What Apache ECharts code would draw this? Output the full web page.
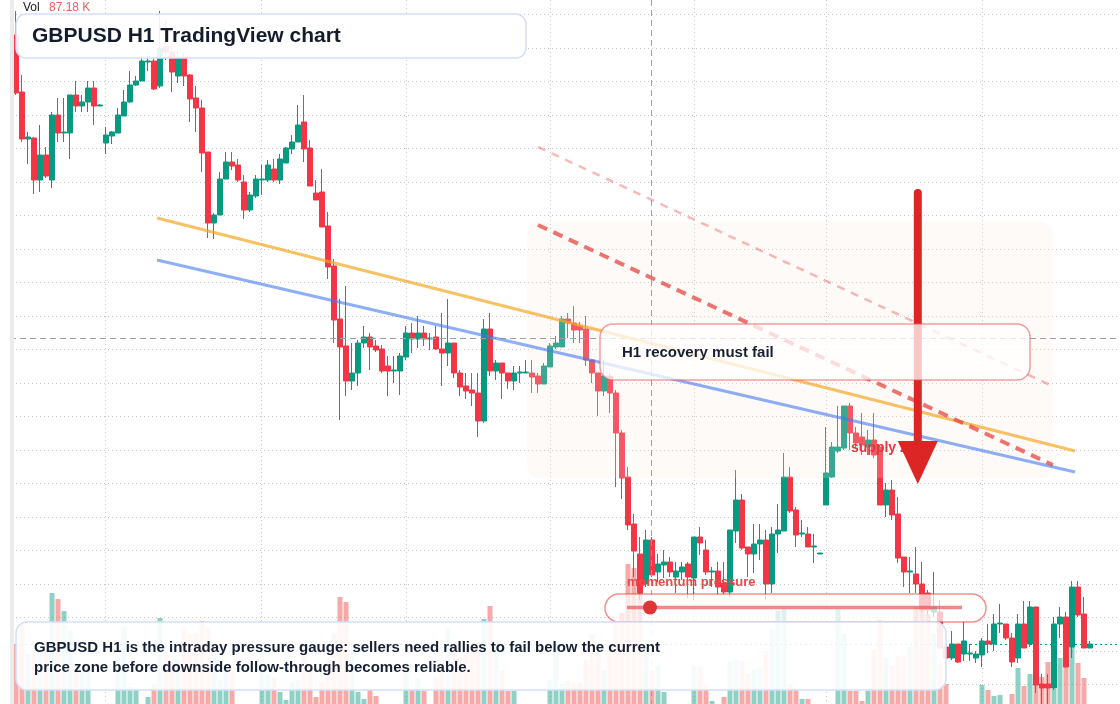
<!DOCTYPE html>
<html>
<head>
<meta charset="utf-8">
<script src="https://cdn.jsdelivr.net/npm/echarts@6/dist/echarts.min.js"></script>
<style>html,body{margin:0;padding:0;background:#fff;}#c{width:1120px;height:704px;}</style>
</head>
<body>
<div id="c"></div>
<script>
// ---------------- data (GBPUSD H1) ----------------
const openP = [
1.2965,1.2908,1.2861,1.2862,1.2820,1.2845,1.2820,1.2885,1.2867,1.2867,
1.2905,1.2894,1.2898,1.2912,1.2894,1.2857,1.2864,1.2867,1.2884,1.2898,
1.2915,1.2919,1.2938,1.2939,1.2914,1.2954,1.2948,1.2924,1.2942,1.2925,
1.2902,1.2892,1.2848,1.2777,1.2785,1.2821,1.2838,1.2835,1.2818,1.2790,
1.2804,1.2820,1.2820,1.2831,1.2820,1.2837,1.2851,1.2858,1.2878,1.2852,
1.2807,1.2808,1.2774,1.2734,1.2681,1.2654,1.2619,1.2627,1.2657,1.2663,
1.2654,1.2651,1.2634,1.2629,1.2629,1.2643,1.2667,1.2661,1.2667,1.2661,
1.2663,1.2651,1.2647,1.2657,1.2627,1.2614,1.2610,1.2607,1.2579,1.2671,
1.2629,1.2637,1.2627,1.2619,1.2627,1.2627,1.2627,1.2624,1.2616,1.2633,
1.2653,1.2653,1.2681,1.2677,1.2674,1.2671,1.2640,1.2627,1.2609,1.2624,
1.2607,1.2567,1.2523,1.2476,1.2446,1.2416,1.2460,1.2428,1.2435,1.2438,
1.2423,1.2428,1.2436,1.2422,1.2463,1.2450,1.2428,1.2429,1.2417,1.2408,
1.2469,1.2500,1.2453,1.2446,1.2456,1.2460,1.2416,1.2466,1.2469,1.2523,
1.2490,1.2466,1.2466,1.2453,1.2446,1.2495,1.2523,1.2549,1.2552,1.2594,
1.2567,1.2563,1.2553,1.2560,1.2553,1.2495,1.2510,1.2486,1.2443,1.2428,
1.2426,1.2416,1.2407,1.2388,1.2388,1.2353,1.2342,1.2356,1.2346,1.2346,
1.2342,1.2345,1.2359,1.2356,1.2376,1.2376,1.2362,1.2342,1.2376,1.2356,
1.2393,1.2316,1.2316,1.2312,1.2376,1.2383,1.2353,1.2413,1.2386,1.2352];
const closeP = [
1.2907,1.2861,1.2863,1.2820,1.2845,1.2824,1.2885,1.2867,1.2868,1.2905,
1.2894,1.2898,1.2912,1.2894,1.2895,1.2865,1.2868,1.2885,1.2898,1.2915,
1.2919,1.2939,1.2939,1.2911,1.2952,1.2948,1.2928,1.2942,1.2924,1.2901,
1.2892,1.2847,1.2777,1.2785,1.2821,1.2838,1.2834,1.2820,1.2790,1.2805,
1.2821,1.2821,1.2835,1.2820,1.2841,1.2852,1.2858,1.2875,1.2851,1.2814,
1.2800,1.2773,1.2733,1.2680,1.2653,1.2619,1.2627,1.2657,1.2663,1.2653,
1.2650,1.2629,1.2629,1.2630,1.2644,1.2667,1.2661,1.2667,1.2661,1.2662,
1.2651,1.2647,1.2657,1.2627,1.2613,1.2609,1.2607,1.2579,1.2671,1.2629,
1.2637,1.2627,1.2619,1.2627,1.2628,1.2628,1.2623,1.2616,1.2634,1.2654,
1.2657,1.2681,1.2677,1.2670,1.2670,1.2640,1.2627,1.2609,1.2624,1.2607,
1.2567,1.2522,1.2475,1.2449,1.2407,1.2460,1.2425,1.2436,1.2438,1.2428,
1.2429,1.2433,1.2423,1.2463,1.2457,1.2428,1.2429,1.2413,1.2408,1.2470,
1.2500,1.2452,1.2446,1.2456,1.2460,1.2416,1.2466,1.2470,1.2523,1.2489,
1.2465,1.2467,1.2453,1.2454,1.2447,1.2527,1.2553,1.2553,1.2594,1.2567,
1.2557,1.2555,1.2560,1.2545,1.2495,1.2510,1.2485,1.2442,1.2428,1.2429,
1.2416,1.2390,1.2390,1.2393,1.2352,1.2342,1.2356,1.2338,1.2359,1.2347,
1.2346,1.2359,1.2356,1.2376,1.2377,1.2362,1.2338,1.2376,1.2352,1.2393,
1.2315,1.2312,1.2312,1.2376,1.2383,1.2333,1.2413,1.2385,1.2352,1.2356];
const highP = [
1.2989,1.2925,1.2868,1.2863,1.2875,1.2853,1.2888,1.2902,1.2902,1.2905,
1.2919,1.2905,1.2919,1.2919,1.2896,1.2873,1.2869,1.2892,1.2910,1.2929,
1.2924,1.2944,1.2944,1.2944,1.2989,1.2980,1.2955,1.2950,1.2947,1.2926,
1.2914,1.2900,1.2848,1.2787,1.2828,1.2848,1.2848,1.2841,1.2825,1.2808,
1.2825,1.2835,1.2840,1.2841,1.2846,1.2853,1.2865,1.2895,1.2905,1.2860,
1.2820,1.2831,1.2788,1.2741,1.2701,1.2714,1.2657,1.2660,1.2674,1.2667,
1.2660,1.2655,1.2644,1.2644,1.2647,1.2674,1.2677,1.2684,1.2674,1.2667,
1.2674,1.2687,1.2701,1.2657,1.2630,1.2627,1.2627,1.2627,1.2681,1.2687,
1.2640,1.2637,1.2627,1.2634,1.2634,1.2640,1.2640,1.2627,1.2637,1.2657,
1.2664,1.2684,1.2687,1.2694,1.2678,1.2684,1.2640,1.2627,1.2640,1.2627,
1.2610,1.2570,1.2533,1.2486,1.2463,1.2470,1.2463,1.2446,1.2450,1.2443,
1.2438,1.2438,1.2438,1.2463,1.2473,1.2460,1.2433,1.2438,1.2438,1.2470,
1.2530,1.2506,1.2453,1.2476,1.2476,1.2470,1.2473,1.2496,1.2547,1.2533,
1.2493,1.2480,1.2473,1.2466,1.2447,1.2573,1.2558,1.2594,1.2594,1.2597,
1.2573,1.2587,1.2570,1.2587,1.2555,1.2517,1.2520,1.2503,1.2443,1.2443,
1.2453,1.2438,1.2410,1.2428,1.2400,1.2360,1.2369,1.2356,1.2379,1.2356,
1.2349,1.2362,1.2376,1.2386,1.2396,1.2376,1.2367,1.2386,1.2399,1.2399,
1.2393,1.2326,1.2326,1.2383,1.2393,1.2388,1.2419,1.2419,1.2403,1.2359];
const lowP = [
1.2905,1.2858,1.2836,1.2806,1.2808,1.2822,1.2812,1.2858,1.2858,1.2841,
1.2888,1.2888,1.2888,1.2875,1.2894,1.2846,1.2856,1.2867,1.2884,1.2897,
1.2914,1.2919,1.2929,1.2910,1.2912,1.2940,1.2908,1.2917,1.2914,1.2878,
1.2868,1.2828,1.2762,1.2761,1.2785,1.2821,1.2830,1.2818,1.2781,1.2788,
1.2802,1.2805,1.2818,1.2818,1.2816,1.2837,1.2846,1.2858,1.2838,1.2814,
1.2800,1.2773,1.2721,1.2657,1.2580,1.2604,1.2610,1.2614,1.2652,1.2630,
1.2648,1.2627,1.2604,1.2617,1.2605,1.2640,1.2647,1.2652,1.2654,1.2650,
1.2650,1.2614,1.2634,1.2622,1.2604,1.2601,1.2594,1.2563,1.2577,1.2624,
1.2620,1.2601,1.2611,1.2610,1.2617,1.2627,1.2607,1.2607,1.2616,1.2633,
1.2651,1.2653,1.2662,1.2657,1.2657,1.2634,1.2617,1.2584,1.2604,1.2587,
1.2513,1.2501,1.2470,1.2423,1.2400,1.2413,1.2423,1.2418,1.2422,1.2423,
1.2407,1.2420,1.2402,1.2400,1.2445,1.2425,1.2413,1.2405,1.2405,1.2403,
1.2457,1.2450,1.2423,1.2427,1.2440,1.2400,1.2407,1.2447,1.2469,1.2487,
1.2453,1.2463,1.2453,1.2437,1.2446,1.2495,1.2522,1.2547,1.2550,1.2550,
1.2552,1.2545,1.2545,1.2542,1.2495,1.2483,1.2480,1.2437,1.2413,1.2407,
1.2407,1.2388,1.2385,1.2383,1.2350,1.2340,1.2340,1.2337,1.2339,1.2339,
1.2337,1.2333,1.2347,1.2349,1.2367,1.2360,1.2333,1.2337,1.2352,1.2353,
1.2307,1.2296,1.2296,1.2310,1.2362,1.2333,1.2342,1.2383,1.2352,1.2352];
const volumeK = [
80,100,70,72,73,82,131,125,113,93,
60,55,55,12,9,14,11,66,97,37,
35,14,27,40,106,68,57,64,97,89,
91,103,96,70,44,58,53,13,10,15,
12,57,49,47,32,24,42,44,80,60,
27,42,63,91,127,122,73,32,25,36,
28,11,14,9,13,62,34,46,33,12,
47,64,96,82,67,74,72,82,105,118,
84,54,33,33,10,13,11,15,12,44,
82,40,43,41,42,64,90,73,54,80,
103,111,160,156,137,84,54,59,32,12,
10,14,11,58,57,39,23,13,27,63,
64,63,50,55,56,73,95,113,115,40,
34,25,25,11,13,10,14,115,90,33,
33,23,33,74,104,66,58,68,68,77,
117,130,110,90,60,40,12,10,14,11,
13,39,34,28,29,12,30,56,38,50,
41,47,62,35,66,75,89,61,46,13];

// session (day) separators, in bar index units
const sessionBreaks = [14.9, 40.9, 65, 89, 113, 135, 161];
// crosshair position [bar index, price]
const crosshair = [105.8, 1.2662];
// annotations in [index, price] coordinates
const trendOrange  = [23.5, 1.2782, 176.5, 1.2549];
const trendBlue    = [23.5, 1.2740, 176.5, 1.2528];
const channelLight = [87, 1.2853, 172.7, 1.2614];
const channelRed   = [87, 1.2775, 172.8, 1.2535];
const supplyZone   = [85.2, 1.2778, 172.8, 1.2522];
const arrowPath    = [150.3, 1.2807, 1.2559, 1.2516]; // x, top, head base, tip

// axis ranges
const PRICE_MIN = 1.23155, PRICE_MAX = 1.29855, PRICE_STEP = 0.00335;
const X_MIN = -2, X_MAX = 184;
const VOL_MIN = 20, VOL_MAX = 180; // the pane is cut at the bottom of the window

// ---------------- chart ----------------
const UP = '#089981', DN = '#f23645';
const FONT = '"Liberation Sans", Arial, Helvetica, sans-serif';
const chart = echarts.init(document.getElementById('c'), null, {renderer: 'canvas', width: 1120, height: 704});

const candleData = openP.map((o, i) => [i, o, closeP[i], lowP[i], highP[i]]);
const volData = volumeK.map((v, i) => ({
  value: [i, v],
  itemStyle: {color: closeP[i] >= openP[i] ? 'rgba(8,153,129,0.45)' : 'rgba(239,83,80,0.5)'}
}));
const lastPrice = [closeP.length - 1, closeP[closeP.length - 1]];
const trendStyles = [
  {stroke: 'rgba(245,166,35,0.7)', lineWidth: 3},
  {stroke: 'rgba(66,120,240,0.6)', lineWidth: 3},
  {stroke: 'rgba(229,57,53,0.35)', lineWidth: 2.5, lineDash: [8, 7]},
  {stroke: 'rgba(229,57,53,0.7)', lineWidth: 4, lineDash: [10, 7]}
];

const option = {
  animation: false,
  backgroundColor: '#ffffff',
  grid: [
    {left: 4, right: 0, top: 14.5, height: 670},
    {left: 4, right: 0, top: 544, height: 160}
  ],
  xAxis: [
    {type: 'value', gridIndex: 0, min: X_MIN, max: X_MAX, show: false},
    {type: 'value', gridIndex: 1, min: X_MIN, max: X_MAX, show: false}
  ],
  yAxis: [
    {type: 'value', gridIndex: 0, min: PRICE_MIN, max: PRICE_MAX, interval: PRICE_STEP, scale: true,
     axisLine: {show: false}, axisTick: {show: false}, axisLabel: {show: false},
     splitLine: {show: true, lineStyle: {color: '#c6c6c6', type: [1, 3], width: 1}}},
    {type: 'value', gridIndex: 1, min: VOL_MIN, max: VOL_MAX, show: false}
  ],
  series: [
    {
      type: 'custom', name: 'sessions', xAxisIndex: 0, yAxisIndex: 0, z: 1, silent: true,
      data: sessionBreaks.map(v => [v, PRICE_MIN]), encode: {x: 0, y: 1},
      renderItem: (p, api) => {
        const x = Math.round(api.coord([api.value(0), api.value(1)])[0]) + 0.5;
        return {type: 'line', shape: {x1: x, y1: 0, x2: x, y2: api.getHeight()},
                style: {stroke: '#c6c6c6', lineWidth: 1, lineDash: [1, 3], fill: null}};
      }
    },
    {
      type: 'bar', name: 'Vol', xAxisIndex: 1, yAxisIndex: 1, barWidth: 5, z: 2, silent: true,
      data: volData
    },
    {
      type: 'candlestick', name: 'GBPUSD', xAxisIndex: 0, yAxisIndex: 0, z: 3, silent: true,
      clip: false, barWidth: 5,
      data: candleData,
      itemStyle: {color: UP, color0: DN, borderColor: UP, borderColor0: DN, borderWidth: 1}
    },
    {
      type: 'custom', name: 'last price', xAxisIndex: 0, yAxisIndex: 0, z: 3, silent: true,
      data: [lastPrice], encode: {x: 0, y: 1},
      renderItem: (p, api) => {
        const y = Math.round(api.coord([api.value(0), api.value(1)])[1]) + 0.5;
        return {type: 'line', shape: {x1: 0, y1: y, x2: api.getWidth(), y2: y},
                style: {stroke: UP, lineWidth: 1, lineDash: [2, 3], fill: null}};
      }
    },
    {
      type: 'custom', name: 'zone', xAxisIndex: 0, yAxisIndex: 0, z: 4, silent: true,
      data: [supplyZone], encode: {x: [0, 2], y: [1, 3]},
      renderItem: (p, api) => {
        const a = api.coord([api.value(0), api.value(1)]);
        const b = api.coord([api.value(2), api.value(3)]);
        return {type: 'rect', shape: {x: a[0], y: a[1], width: b[0] - a[0], height: b[1] - a[1], r: 12},
                style: {fill: 'rgba(250,232,220,0.2)'}};
      }
    },
    {
      type: 'custom', name: 'crosshair', xAxisIndex: 0, yAxisIndex: 0, z: 4, silent: true,
      data: [crosshair], encode: {x: 0, y: 1},
      renderItem: (p, api) => {
        const pt = api.coord([api.value(0), api.value(1)]);
        const x = Math.round(pt[0]) + 0.5, y = Math.round(pt[1]) + 0.5;
        const st = {stroke: '#9ea1a8', lineWidth: 1, lineDash: [6, 4], fill: null};
        return {type: 'group', children: [
          {type: 'line', shape: {x1: x, y1: 0, x2: x, y2: api.getHeight()}, style: st},
          {type: 'line', shape: {x1: 0, y1: y, x2: api.getWidth(), y2: y}, style: st}
        ]};
      }
    },
    {
      type: 'custom', name: 'trendlines', xAxisIndex: 0, yAxisIndex: 0, z: 5, silent: true,
      data: [trendOrange, trendBlue, channelLight, channelRed], encode: {x: [0, 2], y: [1, 3]},
      renderItem: (p, api) => {
        const a = api.coord([api.value(0), api.value(1)]);
        const b = api.coord([api.value(2), api.value(3)]);
        return {type: 'line', shape: {x1: a[0], y1: a[1], x2: b[0], y2: b[1]},
                style: Object.assign({fill: null}, trendStyles[p.dataIndex])};
      }
    },
    {
      type: 'custom', name: 'arrow', xAxisIndex: 0, yAxisIndex: 0, z: 7, silent: true,
      data: [arrowPath], encode: {x: 0, y: [1, 2, 3]},
      renderItem: (p, api) => {
        const top = api.coord([api.value(0), api.value(1)]);
        const base = api.coord([api.value(0), api.value(2)]);
        const tip = api.coord([api.value(0), api.value(3)]);
        return {type: 'group', children: [
          {type: 'line', shape: {x1: top[0], y1: top[1], x2: base[0], y2: base[1] + 2},
           style: {stroke: '#dc2626', lineWidth: 8, lineCap: 'round', fill: null}},
          {type: 'polygon', shape: {points: [[base[0] - 20, base[1]], [base[0] + 20, base[1]], [tip[0], tip[1]]]},
           style: {fill: '#dc2626'}}
        ]};
      }
    }
  ],
  graphic: [
    {type: 'rect', z: 50, silent: true, shape: {x: 0, y: 0, width: 10, height: 704}, style: {fill: '#ffffff'}},
    {type: 'rect', z: 50, silent: true, shape: {x: 10, y: 0, width: 4, height: 704}, style: {fill: '#ebebeb'}},
    {type: 'text', z: 60, silent: true, style: {text: 'Vol', x: 23, y: 8, font: '12px ' + FONT, fill: '#131722', align: 'left', verticalAlign: 'middle'}},
    {type: 'text', z: 60, silent: true, style: {text: '87.18 K', x: 49, y: 8, font: '12px ' + FONT, fill: '#f25a5a', align: 'left', verticalAlign: 'middle'}},
    // supply zone label (under the arrow)
    {type: 'text', z: 6, silent: true, style: {text: 'supply zone', x: 851, y: 448, font: 'bold 14px ' + FONT, fill: '#e0393e', align: 'left', verticalAlign: 'middle'}},
    // momentum label + pill gauge
    {type: 'text', z: 60, silent: true, style: {text: 'momentum pressure', x: 627, y: 582, font: 'bold 13px ' + FONT, fill: '#e44b4b', align: 'left', verticalAlign: 'middle'}},
    {type: 'rect', z: 58, silent: true, shape: {x: 605, y: 594, width: 381, height: 28, r: 14},
     style: {fill: 'rgba(255,255,255,0.72)', stroke: 'rgba(229,57,53,0.55)', lineWidth: 1.5}},
    {type: 'line', z: 59, silent: true, shape: {x1: 627, y1: 607.5, x2: 962, y2: 607.5},
     style: {stroke: 'rgba(229,57,53,0.6)', lineWidth: 3.5}},
    {type: 'circle', z: 59, silent: true, shape: {cx: 650, cy: 607.5, r: 7}, style: {fill: '#e03535'}},
    // H1 recovery box
    {type: 'rect', z: 58, silent: true, shape: {x: 600, y: 324, width: 430, height: 56, r: 13},
     style: {fill: 'rgba(255,255,255,0.75)', stroke: 'rgba(229,80,85,0.55)', lineWidth: 1.5}},
    {type: 'text', z: 59, silent: true, style: {text: 'H1 recovery must fail', x: 622, y: 353, font: 'bold 15px ' + FONT, fill: '#172033', align: 'left', verticalAlign: 'middle'}},
    // title box
    {type: 'rect', z: 58, silent: true, shape: {x: 16, y: 14, width: 510, height: 44, r: 10},
     style: {fill: 'rgba(255,255,255,0.9)', stroke: '#d3e0f7', lineWidth: 1.5}},
    {type: 'text', z: 59, silent: true, style: {text: 'GBPUSD H1 TradingView chart', x: 32, y: 36, font: 'bold 21px ' + FONT, fill: '#141c2c', align: 'left', verticalAlign: 'middle'}},
    // bottom commentary box
    {type: 'rect', z: 58, silent: true, shape: {x: 16, y: 622, width: 930, height: 68, r: 11},
     style: {fill: 'rgba(255,255,255,0.9)', stroke: '#d3e0f7', lineWidth: 1.5}},
    {type: 'text', z: 59, silent: true, style: {
      text: 'GBPUSD H1 is the intraday pressure gauge: sellers need rallies to fail below the current\nprice zone before downside follow-through becomes reliable.',
      x: 34, y: 638, font: 'bold 15px ' + FONT, lineHeight: 20, fill: '#172033', align: 'left', verticalAlign: 'top'}}
  ]
};
chart.setOption(option);
</script>
</body>
</html>
